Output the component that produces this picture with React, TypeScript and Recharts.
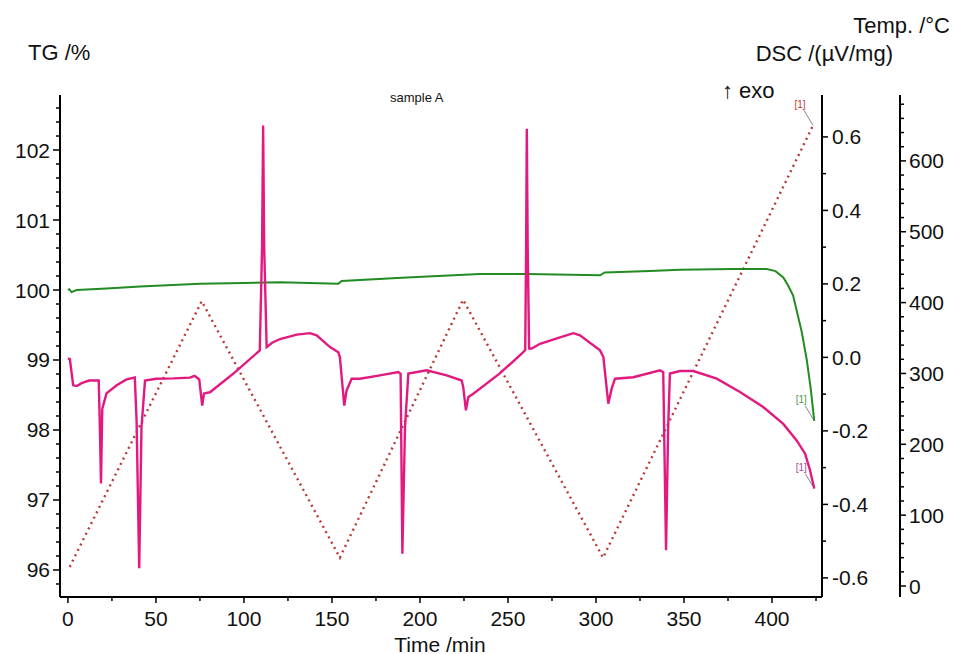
import React from 'react';
import { LineChart, Line, XAxis, YAxis } from 'recharts';

// TG (mass, %) – left axis
const tgTime = [0, 0.7, 2.1, 4.9, 22, 41, 75, 100, 120.5, 153.6, 155.5, 192.4, 234, 260.6, 302.3, 305, 330.7, 347.7, 378, 397, 402, 406.4, 409, 412, 416.9, 419.7, 422, 424];
const tgValue = [100.0, 100.01, 99.97, 100.0, 100.02, 100.05, 100.09, 100.1, 100.11, 100.09, 100.13, 100.18, 100.23, 100.23, 100.21, 100.25, 100.27, 100.29, 100.3, 100.3, 100.27, 100.18, 100.07, 99.92, 99.4, 99.01, 98.59, 98.13];

// DSC (µV/mg) – first right axis
const dscTime = [0, 1.1, 3, 5, 7.8, 12, 17.5, 18.2, 18.8, 19.5, 21.9, 27.7, 33.3, 38, 39, 40.5, 41.8, 43.8, 50, 60, 69.3, 72, 74.6, 76.3, 77.3, 80.7, 95, 109, 110.3, 110.9, 111.5, 112.9, 116, 120.5, 130, 137.5, 141.3, 148.9, 153.6, 154.5, 157, 158.3, 161.2, 165.9, 177.3, 187.7, 189, 190, 191.5, 193.4, 203.8, 215.2, 223.7, 224.6, 226.1, 227.5, 230.3, 245, 257.8, 259.8, 260.3, 260.7, 261.2, 262, 263.5, 268.2, 280, 287.1, 290.9, 302.3, 304.2, 307, 308.9, 310.8, 321.2, 336.4, 338.2, 339.8, 341, 342, 347.7, 355.3, 368.6, 381.8, 395, 406.4, 414, 418.8, 421.6, 424];
const dscValue = [-0.003, -0.005, -0.076, -0.078, -0.07, -0.063, -0.063, -0.2, -0.343, -0.14, -0.098, -0.076, -0.06, -0.055, -0.17, -0.574, -0.19, -0.063, -0.058, -0.057, -0.055, -0.05, -0.06, -0.131, -0.098, -0.095, -0.04, 0.019, 0.3, 0.631, 0.3, 0.028, 0.04, 0.05, 0.062, 0.066, 0.06, 0.028, 0.014, 0.001, -0.131, -0.09, -0.058, -0.058, -0.049, -0.04, -0.045, -0.534, -0.19, -0.044, -0.035, -0.049, -0.063, -0.081, -0.144, -0.108, -0.099, -0.045, 0.01, 0.02, 0.3, 0.622, 0.3, 0.024, 0.024, 0.037, 0.055, 0.066, 0.06, 0.019, 0.001, -0.126, -0.085, -0.058, -0.054, -0.035, -0.04, -0.525, -0.19, -0.044, -0.037, -0.037, -0.058, -0.094, -0.135, -0.181, -0.226, -0.262, -0.307, -0.357];

// Temperature program (°C) – outer right axis
const tempTime = [1, 76, 154.5, 224.5, 304, 423.3];
const tempValue = [27, 402, 40, 404, 40, 650];

const timeTicks = [0, 25, 50, 75, 100, 125, 150, 175, 200, 225, 250, 275, 300, 325, 350, 375, 400, 425];
const tgTicks = [95.8, 96, 96.2, 96.4, 96.6, 96.8, 97, 97.2, 97.4, 97.6, 97.8, 98, 98.2, 98.4, 98.6, 98.8, 99, 99.2, 99.4, 99.6, 99.8, 100, 100.2, 100.4, 100.6, 100.8, 101, 101.2, 101.4, 101.6, 101.8, 102, 102.2, 102.4, 102.6];
const dscTicks = [-0.6, -0.5, -0.4, -0.3, -0.2, -0.1, 0, 0.1, 0.2, 0.3, 0.4, 0.5, 0.6];
const tempTicks = [0, 20, 40, 60, 80, 100, 120, 140, 160, 180, 200, 220, 240, 260, 280, 300, 320, 340, 360, 380, 400, 420, 440, 460, 480, 500, 520, 540, 560, 580, 600, 620, 640, 660, 680];

const tgData = tgTime.map((t, i) => ({ t, tg: tgValue[i] }));
const dscData = dscTime.map((t, i) => ({ t, dsc: dscValue[i] }));
const tempData = tempTime.map((t, i) => ({ t, temp: tempValue[i] }));

const FONT = '"Liberation Sans", Arial, sans-serif';
const DSC_COLOR = '#e2197f';
const TG_COLOR = '#228b22';
const TEMP_COLOR = '#b83a36';

function TimeTick({ x, y, payload }: any) {
  const v = payload.value;
  const major = v % 50 === 0;
  return (
    <g>
      <line x1={x} x2={x} y1={y} y2={y + (major ? 6 : 4)} stroke="#000" strokeWidth={1.5} />
      {major && (
        <text x={x} y={y + 21} textAnchor="middle" dominantBaseline="central" fontSize={21} fontFamily={FONT} fill="#111">
          {v}
        </text>
      )}
    </g>
  );
}

function TgTick({ x, y, payload }: any) {
  const v = payload.value;
  const major = Math.abs(v - Math.round(v)) < 1e-6;
  return (
    <g>
      <line x1={x} x2={x - (major ? 7 : 4)} y1={y} y2={y} stroke="#000" strokeWidth={1.5} />
      {major && (
        <text x={x - 10} y={y} textAnchor="end" dominantBaseline="central" fontSize={21} fontFamily={FONT} fill="#111">
          {Math.round(v)}
        </text>
      )}
    </g>
  );
}

function DscTick({ x, y, payload }: any) {
  const v = payload.value;
  const major = Math.round(v * 10) % 2 === 0;
  return (
    <g>
      <line x1={x} x2={x + (major ? 6 : 4)} y1={y} y2={y} stroke="#000" strokeWidth={1.5} />
      {major && (
        <text x={x + 10} y={y} textAnchor="start" dominantBaseline="central" fontSize={21} fontFamily={FONT} fill="#111">
          {v.toFixed(1)}
        </text>
      )}
    </g>
  );
}

function TempTick({ x, y, payload }: any) {
  const v = payload.value;
  const major = v % 100 === 0;
  return (
    <g>
      <line x1={x} x2={x + (major ? 6 : 4)} y1={y} y2={y} stroke="#000" strokeWidth={1.5} />
      {major && (
        <text x={x + 9} y={y} textAnchor="start" dominantBaseline="central" fontSize={21} fontFamily={FONT} fill="#111">
          {v}
        </text>
      )}
    </g>
  );
}

// "[1]" tag with a short leader line at the last point of a curve
const endTag = (count: number, color: string) => (p: any) => {
  if (p.index !== count - 1) return <g />;
  return (
    <g>
      <line x1={p.x - 9} y1={p.y - 15} x2={p.x} y2={p.y} stroke="#666" strokeWidth={0.8} />
      <text x={p.x - 13} y={p.y - 21} textAnchor="middle" dominantBaseline="central" fontSize={10} fontFamily={FONT} fill={color}>
        [1]
      </text>
    </g>
  );
};

const axisLine = { stroke: '#000', strokeWidth: 2 };

export default function App() {
  return (
    <div style={{ position: 'absolute', left: 0, top: 0, width: 953, height: 654, background: '#fff', fontFamily: FONT }}>
      <LineChart width={953} height={654} margin={{ top: 95, right: 0, bottom: 0, left: 0 }}>
        <XAxis
          dataKey="t"
          type="number"
          domain={[-4.5, 428.4]}
          allowDataOverflow
          ticks={timeTicks}
          interval={0}
          tick={(p: any) => <TimeTick {...p} />}
          tickLine={false}
          tickSize={0}
          tickMargin={0}
          axisLine={axisLine}
          height={57}
        />
        <YAxis
          yAxisId="tg"
          orientation="left"
          type="number"
          domain={[95.614, 102.786]}
          allowDataOverflow
          ticks={tgTicks}
          interval={0}
          tick={(p: any) => <TgTick {...p} />}
          tickLine={false}
          tickSize={0}
          tickMargin={0}
          axisLine={axisLine}
          width={60}
        />
        <YAxis
          yAxisId="dsc"
          orientation="right"
          type="number"
          domain={[-0.652, 0.714]}
          allowDataOverflow
          ticks={dscTicks}
          interval={0}
          tick={(p: any) => <DscTick {...p} />}
          tickLine={false}
          tickSize={0}
          tickMargin={0}
          axisLine={axisLine}
          width={78}
        />
        <YAxis
          yAxisId="temp"
          orientation="right"
          type="number"
          domain={[-15.5, 693]}
          allowDataOverflow
          ticks={tempTicks}
          interval={0}
          tick={(p: any) => <TempTick {...p} />}
          tickLine={false}
          tickSize={0}
          tickMargin={0}
          axisLine={axisLine}
          width={53}
        />
        <Line
          yAxisId="temp"
          data={tempData}
          dataKey="temp"
          type="linear"
          stroke={TEMP_COLOR}
          strokeWidth={2.4}
          strokeDasharray="2 4"
          dot={false}
          isAnimationActive={false}
          label={endTag(tempData.length, '#c0392b')}
        />
        <Line
          yAxisId="tg"
          data={tgData}
          dataKey="tg"
          type="linear"
          stroke={TG_COLOR}
          strokeWidth={2}
          dot={false}
          isAnimationActive={false}
          label={endTag(tgData.length, '#4a9a4a')}
        />
        <Line
          yAxisId="dsc"
          data={dscData}
          dataKey="dsc"
          type="linear"
          stroke={DSC_COLOR}
          strokeWidth={2.4}
          dot={false}
          isAnimationActive={false}
          label={endTag(dscData.length, '#b04a9a')}
        />
      </LineChart>
      <svg width={953} height={654} style={{ position: 'absolute', left: 0, top: 0, pointerEvents: 'none' }}>
        <text x={28} y={52} dominantBaseline="central" fontSize={22} fontFamily={FONT} fill="#111">TG /%</text>
        <text x={950} y={25} textAnchor="end" dominantBaseline="central" fontSize={22} fontFamily={FONT} fill="#111">Temp. /°C</text>
        <text x={893} y={53} textAnchor="end" dominantBaseline="central" fontSize={22} fontFamily={FONT} fill="#111">DSC /(µV/mg)</text>
        <text x={722} y={90} dominantBaseline="central" fontSize={22} fontFamily={FONT} fill="#111">↑ exo</text>
        <text x={390} y={97} dominantBaseline="central" fontSize={13} fontFamily={FONT} fill="#111">sample A</text>
        <text x={440} y={644} textAnchor="middle" dominantBaseline="central" fontSize={21} fontFamily={FONT} fill="#111">Time /min</text>
      </svg>
    </div>
  );
}
